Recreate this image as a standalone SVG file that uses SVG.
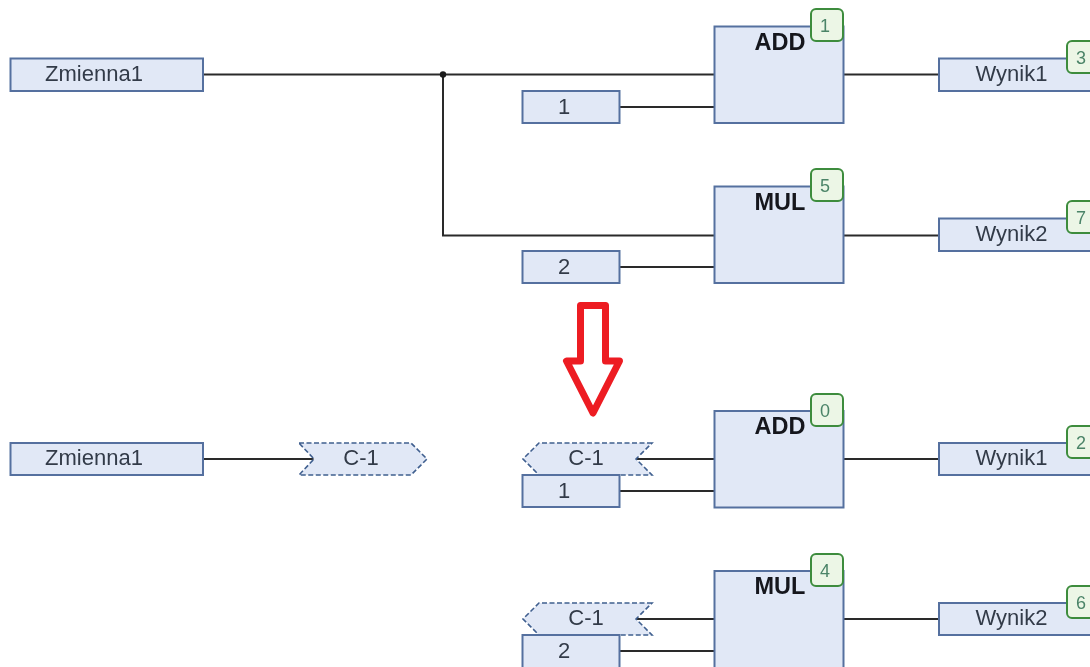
<svg xmlns="http://www.w3.org/2000/svg" width="1090" height="667" viewBox="0 0 1090 667">
<defs>
<filter id="soft" x="-2%" y="-2%" width="104%" height="104%"><feGaussianBlur stdDeviation="0.45"/></filter>
</defs>
<style>
.box{fill:#e1e8f6;stroke:#54709f;stroke-width:2}
.jump{fill:#e1e8f6;stroke:#3f5f8f;stroke-width:1.6;stroke-dasharray:5 2.5}
.badge{fill:#ecf6e6;stroke:#3c8c3c;stroke-width:2}
.wire{fill:none;stroke:#2a2a2a;stroke-width:2}
text{font-family:"Liberation Sans",Arial,sans-serif;font-size:22px;fill:#333b48;text-anchor:middle}
.title{font-weight:bold;font-size:23.5px;fill:#14181f}
.num{font-size:18px;fill:#4b8468}
</style>
<rect width="1090" height="667" fill="#ffffff"/>
<g filter="url(#soft)">
<g id="connectors">
<path class="wire" d="M203 74.5H714M443 74.5V235.5H714M619 107H714M619 267H714M843 74.5H939M843 235.5H939"/>
<circle cx="443" cy="74.5" r="3.2" fill="#1a1a1a"/>
<path class="wire" d="M203 459H314M636 459H714M619 491H714M843 459H939M636 619H714M619 651H714M843 619H939"/>
</g>
<g id="var-top"><rect class="box" x="10.5" y="58.5" width="192.5" height="32.5"/><text x="94" y="81">Zmienna1</text></g>
<g id="const-1-top"><rect class="box" x="522.5" y="91" width="97" height="32"/><text x="564" y="114">1</text></g>
<g id="add-top"><rect class="box" x="714.5" y="26.5" width="129" height="96.5"/><text class="title" x="780" y="50">ADD</text><rect class="badge" x="811" y="9" width="32" height="32" rx="5"/><text class="num" x="825" y="32">1</text></g>
<g id="result1-top"><rect class="box" x="939" y="58.5" width="160" height="32.5"/><text x="1011.5" y="81">Wynik1</text><rect class="badge" x="1067" y="41" width="32" height="32" rx="5"/><text class="num" x="1081" y="64">3</text></g>
<g id="const-2-top"><rect class="box" x="522.5" y="251" width="97" height="32"/><text x="564" y="274">2</text></g>
<g id="mul-top"><rect class="box" x="714.5" y="186.5" width="129" height="96.5"/><text class="title" x="780" y="210">MUL</text><rect class="badge" x="811" y="169" width="32" height="32" rx="5"/><text class="num" x="825" y="192">5</text></g>
<g id="result2-top"><rect class="box" x="939" y="218.5" width="160" height="32.5"/><text x="1011.5" y="241">Wynik2</text><rect class="badge" x="1067" y="201" width="32" height="32" rx="5"/><text class="num" x="1081" y="224">7</text></g>
<g id="red-arrow"><path d="M580.5 305.5H605.5V361H619.5L593 413L566.5 361H580.5Z" fill="#ffffff" stroke="#ed1c24" stroke-width="7" stroke-linejoin="round"/></g>
<g id="var-bottom"><rect class="box" x="10.5" y="443" width="192.5" height="32"/><text x="94" y="465">Zmienna1</text></g>
<g id="jump-out"><path class="jump" d="M299 443H411L427 459L411 475H299L314 459Z"/><text x="361" y="465">C-1</text></g>
<g id="jump-in-1"><path class="jump" d="M652 443H539L523 459L539 475H652L636 459Z"/><text x="586" y="465">C-1</text></g>
<g id="const-1-bottom"><rect class="box" x="522.5" y="475" width="97" height="32"/><text x="564" y="498">1</text></g>
<g id="add-bottom"><rect class="box" x="714.5" y="411" width="129" height="96.5"/><text class="title" x="780" y="434">ADD</text><rect class="badge" x="811" y="394" width="32" height="32" rx="5"/><text class="num" x="825" y="417">0</text></g>
<g id="result1-bottom"><rect class="box" x="939" y="443" width="160" height="32"/><text x="1011.5" y="465">Wynik1</text><rect class="badge" x="1067" y="426" width="32" height="32" rx="5"/><text class="num" x="1081" y="449">2</text></g>
<g id="jump-in-2"><path class="jump" d="M652 603H539L523 619L539 635H652L636 619Z"/><text x="586" y="625">C-1</text></g>
<g id="const-2-bottom"><rect class="box" x="522.5" y="635" width="97" height="40"/><text x="564" y="658">2</text></g>
<g id="mul-bottom"><rect class="box" x="714.5" y="571" width="129" height="104"/><text class="title" x="780" y="594">MUL</text><rect class="badge" x="811" y="554" width="32" height="32" rx="5"/><text class="num" x="825" y="577">4</text></g>
<g id="result2-bottom"><rect class="box" x="939" y="603" width="160" height="32"/><text x="1011.5" y="625">Wynik2</text><rect class="badge" x="1067" y="586" width="32" height="32" rx="5"/><text class="num" x="1081" y="609">6</text></g>
</g>
</svg>
